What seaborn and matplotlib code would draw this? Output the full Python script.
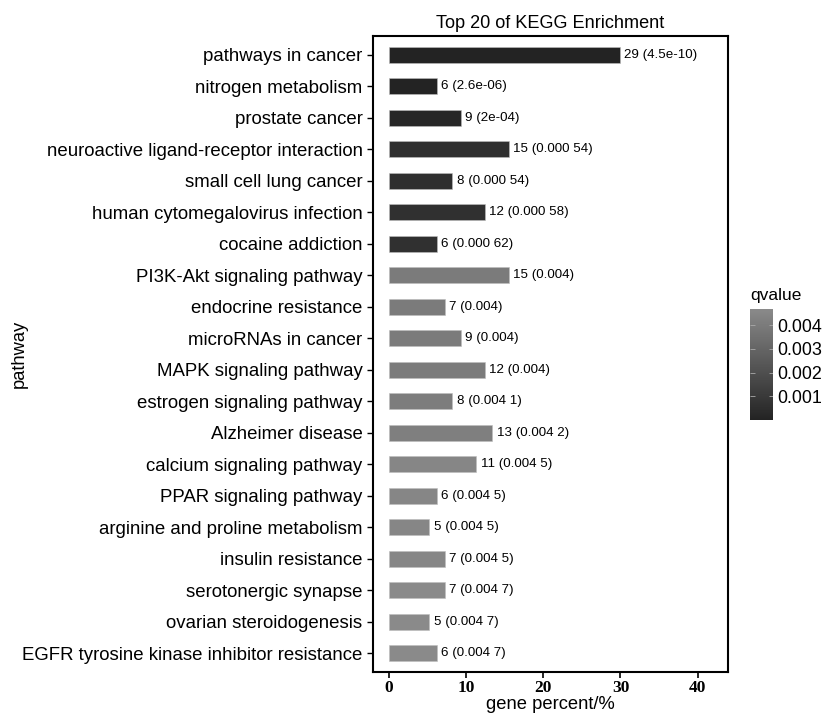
import matplotlib
matplotlib.use('Agg')
import matplotlib.pyplot as plt
import matplotlib.colors as mcolors
import pandas as pd
import seaborn as sns

# Data
pathways = ['pathways in cancer', 'nitrogen metabolism', 'prostate cancer',
            'neuroactive ligand-receptor interaction', 'small cell lung cancer',
            'human cytomegalovirus infection', 'cocaine addiction',
            'PI3K-Akt signaling pathway', 'endocrine resistance', 'microRNAs in cancer',
            'MAPK signaling pathway', 'estrogen signaling pathway', 'Alzheimer disease',
            'calcium signaling pathway', 'PPAR signaling pathway',
            'arginine and proline metabolism', 'insulin resistance',
            'serotonergic synapse', 'ovarian steroidogenesis',
            'EGFR tyrosine kinase inhibitor resistance']
gene_percent = [29.9, 6.2, 9.3, 15.5, 8.2, 12.4, 6.2, 15.5, 7.2, 9.3,
                12.4, 8.2, 13.4, 11.3, 6.2, 5.2, 7.2, 7.2, 5.2, 6.2]
counts = [29, 6, 9, 15, 8, 12, 6, 15, 7, 9, 12, 8, 13, 11, 6, 5, 7, 7, 5, 6]
qvalues = [4.5e-10, 2.6e-06, 2e-04, 0.00054, 0.00054, 0.00058, 0.00062,
           0.0040, 0.0040, 0.0040, 0.0040, 0.0041, 0.0042, 0.0045, 0.0045,
           0.0045, 0.0045, 0.0047, 0.0047, 0.0047]
q_labels = ['4.5e-10', '2.6e-06', '2e-04', '0.000 54', '0.000 54', '0.000 58',
            '0.000 62', '0.004', '0.004', '0.004', '0.004', '0.004 1', '0.004 2',
            '0.004 5', '0.004 5', '0.004 5', '0.004 5', '0.004 7', '0.004 7', '0.004 7']

df = pd.DataFrame({'pathway': pathways, 'percent': gene_percent,
                   'count': counts, 'qvalue': qvalues, 'qlab': q_labels})

plt.rcParams['font.family'] = ['Liberation Sans', 'DejaVu Sans']

cmap = mcolors.LinearSegmentedColormap.from_list('grey_q', ['#232323', '#8a8a8a'])
norm = mcolors.Normalize(vmin=min(qvalues), vmax=max(qvalues))

fig = plt.figure(figsize=(8.27, 7.18), dpi=100)
ax = fig.add_axes([0.451, 0.064, 0.429, 0.886])

sns.barplot(data=df, x='percent', y='pathway', hue='qvalue', palette=cmap,
            hue_norm=norm, dodge=False, legend=False, width=0.5, ax=ax,
            edgecolor='#bdbdbd', linewidth=0.4, saturation=1)

# count (qvalue) label at the end of each bar
for i, row in df.iterrows():
    ax.text(row['percent'] + 0.6, i, f"{row['count']} ({row['qlab']})",
            va='center', ha='left', fontsize=9.6)

ax.set_xlim(-2.07, 43.9)
ax.set_ylim(19.6, -0.6)
ax.set_xticks([0, 10, 20, 30, 40])
ax.set_xticklabels(['0', '10', '20', '30', '40'], family='Liberation Serif',
                   fontweight='bold', fontsize=12.5)
ax.tick_params(axis='y', labelsize=13.4, length=4, width=1)
ax.tick_params(axis='x', length=4, width=1.2, pad=2)
ax.set_xlabel('gene percent/%', fontsize=13.2, labelpad=0)
ax.set_ylabel('pathway', fontsize=13.2)
ax.yaxis.set_label_coords(-0.972, 0.5)
ax.set_title('Top 20 of KEGG Enrichment', fontsize=13.1, pad=6)
for sp in ax.spines.values():
    sp.set_linewidth(1.5)
    sp.set_color('black')

# colorbar for qvalue
cax = fig.add_axes([0.907, 0.415, 0.028, 0.155])
sm = plt.cm.ScalarMappable(norm=norm, cmap=cmap)
cb = fig.colorbar(sm, cax=cax, ticks=[0.001, 0.002, 0.003, 0.004])
cb.ax.set_yticklabels(['0.001', '0.002', '0.003', '0.004'], fontsize=12.9)
cb.outline.set_visible(False)
cb.ax.tick_params(length=0, pad=3)
for t in [0.001, 0.002, 0.003, 0.004]:
    cb.ax.hlines(t, 0, 0.2, color='#aaaaaa', lw=0.6, transform=cb.ax.get_yaxis_transform())
    cb.ax.hlines(t, 0.8, 1, color='#aaaaaa', lw=0.6, transform=cb.ax.get_yaxis_transform())
cb.ax.set_title('qvalue', fontsize=12.5, loc='left', pad=6)

fig.savefig('out.png', dpi=100)
